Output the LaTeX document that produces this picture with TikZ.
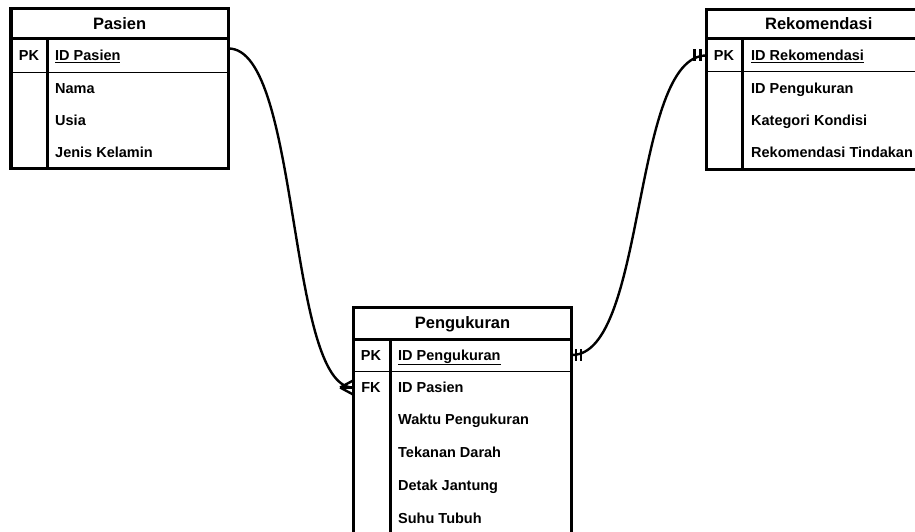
\documentclass[tikz,border=0pt]{standalone}
\usepackage{fontspec}
\setmainfont{Liberation Sans}

\tikzset{
	tableframe/.style={line width=3.2pt},
	headline/.style={line width=3pt},
	keyline/.style={line width=3pt},
	rowline/.style={line width=1pt},
	headtext/.style={font=\bfseries\fontsize{16.5}{18}\selectfont, inner sep=0pt, text height=11.8pt, text depth=0pt},
	keytext/.style={font=\bfseries\fontsize{14.5}{16}\selectfont, inner sep=0pt, text height=10.4pt, text depth=0pt},
	attrtext/.style={keytext, anchor=west},
	rowbox/.style={inner sep=0pt, minimum height=32pt},
	relation/.style={line width=2.4pt},
	marker/.style={line width=2.4pt},
}

\begin{document}
\begin{tikzpicture}[x=1pt, y=-1pt]

	\useasboundingbox	(0,0)	rectangle	(915,532);
	\clip	(0,0)	rectangle	(915,532);
	\fill[white]	(0,0)	rectangle	(915,532);

%	Pasien
	\draw[tableframe]	(11,8.5)	rectangle	(228.3,168.5);
	\draw[headline]	(11,39)	--	(228.3,39);
	\draw[rowline]	(11,72.3)	--	(228.3,72.3);
	\draw[keyline]	(47,39)	--	(47,168.5);

	\node	(pasien)	at	(119.65,23.5)	[headtext]{Pasien};
	\node	(pasienpk)	at	(119.65,55.5)	[rowbox, minimum width=217.3pt]{};
	\node	(pasienkey)	at	(29,55)	[keytext]{PK};
	\node	(pasienid)	at	(55,55)	[attrtext]{\underline{ID Pasien}};
	\node	(pasiennama)	at	(55,88)	[attrtext]{Nama};
	\node	(pasienusia)	at	(55,120)	[attrtext]{Usia};
	\node	(pasienjk)	at	(55,152.5)	[attrtext]{Jenis Kelamin};

%	Rekomendasi
	\draw[tableframe]	(706.5,9.5)	rectangle	(931,169.5);
	\draw[headline]	(706.5,39)	--	(931,39);
	\draw[rowline]	(706.5,71.7)	--	(931,71.7);
	\draw[keyline]	(742.3,39)	--	(742.3,169.5);

	\node	(rekomendasi)	at	(818.75,23.5)	[headtext]{Rekomendasi};
	\node	(rekomendasipk)	at	(818.75,55.5)	[rowbox, minimum width=224.5pt]{};
	\node	(rekomendasikey)	at	(724,55)	[keytext]{PK};
	\node	(rekomendasiid)	at	(751,55)	[attrtext]{\underline{ID Rekomendasi}};
	\node	(rekomendasiukur)	at	(751,88)	[attrtext]{ID Pengukuran};
	\node	(rekomendasikat)	at	(751,120)	[attrtext]{Kategori Kondisi};
	\node	(rekomendasitin)	at	(751,152)	[attrtext]{Rekomendasi Tindakan};

%	Pengukuran
	\draw[tableframe]	(353.3,307.5)	rectangle	(571.7,560);
	\draw[headline]	(353.3,339.2)	--	(571.7,339.2);
	\draw[rowline]	(353.3,371.7)	--	(571.7,371.7);
	\draw[keyline]	(390,339.2)	--	(390,560);

	\node	(pengukuran)	at	(462.5,322.5)	[headtext]{Pengukuran};
	\node	(pengukuranpk)	at	(462.5,355)	[rowbox, minimum width=218.4pt]{};
	\node	(pengukuranfk)	at	(462.5,387.5)	[rowbox, minimum width=218.4pt]{};
	\node	(pengukurankey)	at	(371,355)	[keytext]{PK};
	\node	(pengukuranfkey)	at	(371,387)	[keytext]{FK};
	\node	(pengukuranid)	at	(398,355)	[attrtext]{\underline{ID Pengukuran}};
	\node	(pengukuranpas)	at	(398,387)	[attrtext]{ID Pasien};
	\node	(pengukuranwkt)	at	(398,419.5)	[attrtext]{Waktu Pengukuran};
	\node	(pengukurantek)	at	(398,452)	[attrtext]{Tekanan Darah};
	\node	(pengukurandet)	at	(398,485)	[attrtext]{Detak Jantung};
	\node	(pengukuransuhu)	at	(398,518)	[attrtext]{Suhu Tubuh};

%	relasi
	\draw[relation]	([yshift=7pt]pasienpk.east)	.. controls +(72,0) and +(-66,0) ..	(pengukuranfk.west);
	\draw[marker]	([xshift=-13pt]pengukuranfk.west)	--	([yshift=7pt]pengukuranfk.west);
	\draw[marker]	([xshift=-13pt]pengukuranfk.west)	--	(pengukuranfk.west);
	\draw[marker]	([xshift=-13pt]pengukuranfk.west)	--	([yshift=-7pt]pengukuranfk.west);

	\draw[relation]	(pengukuranpk.east)	.. controls +(75,0) and +(-75,0) ..	(rekomendasipk.west);
	\draw[marker]	([xshift=4pt,yshift=6pt]pengukuranpk.east)	--	([xshift=4pt,yshift=-6pt]pengukuranpk.east);
	\draw[marker]	([xshift=9pt,yshift=6pt]pengukuranpk.east)	--	([xshift=9pt,yshift=-6pt]pengukuranpk.east);
	\draw[marker]	([xshift=-6pt,yshift=6pt]rekomendasipk.west)	--	([xshift=-6pt,yshift=-6pt]rekomendasipk.west);
	\draw[marker]	([xshift=-12pt,yshift=6pt]rekomendasipk.west)	--	([xshift=-12pt,yshift=-6pt]rekomendasipk.west);

\end{tikzpicture}
\end{document}
